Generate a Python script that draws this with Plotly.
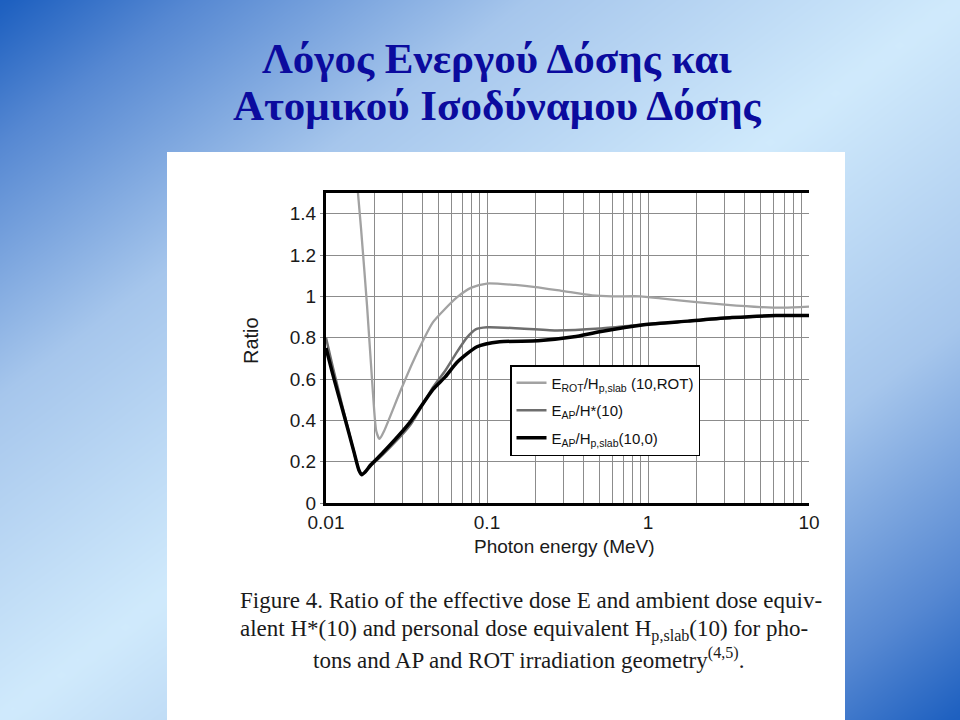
import numpy as np
import plotly.graph_objects as go

# ---------------- data ----------------
rot_energy = [0.0152, 0.0165, 0.018, 0.0195, 0.0205, 0.0215, 0.023, 0.0288, 0.035, 0.0462,
              0.055, 0.065, 0.08, 0.1, 0.15, 0.2, 0.3, 0.45, 0.6, 0.9, 1.2, 2.0, 3.0, 5.0, 7.0, 10.0]
rot_ratio = [1.65, 1.33, 0.95, 0.55, 0.35, 0.31, 0.35, 0.537, 0.69, 0.875,
             0.94, 0.995, 1.042, 1.062, 1.055, 1.045, 1.025, 1.005, 1.0, 1.0, 0.99, 0.972, 0.96, 0.948, 0.945, 0.95]

aph_energy = [0.01, 0.011, 0.012, 0.013, 0.014, 0.015, 0.016, 0.0167, 0.0175, 0.019, 0.0226,
              0.0332, 0.0462, 0.055, 0.065, 0.075, 0.085, 0.1, 0.15, 0.268, 0.5, 0.83, 1.0, 1.77, 3.32, 6.2, 10.0]
aph_ratio = [0.80, 0.66, 0.54, 0.43, 0.33, 0.24, 0.16, 0.14, 0.15, 0.18, 0.235,
             0.375, 0.56, 0.64, 0.73, 0.80, 0.84, 0.85, 0.846, 0.835, 0.844, 0.86, 0.865, 0.88, 0.896, 0.906, 0.907]

aps_energy = [0.01, 0.011, 0.012, 0.013, 0.014, 0.015, 0.016, 0.0167, 0.0175, 0.019, 0.0226,
              0.0332, 0.0462, 0.055, 0.065, 0.0866, 0.12, 0.207, 0.347, 0.5, 0.943, 1.77, 3.32, 6.2, 10.0]
aps_ratio = [0.75, 0.625, 0.517, 0.42, 0.327, 0.24, 0.16, 0.137, 0.15, 0.185, 0.244,
             0.39, 0.55, 0.61, 0.68, 0.756, 0.78, 0.785, 0.804, 0.829, 0.863, 0.88, 0.897, 0.907, 0.907]

series_names = ["E<sub>ROT</sub>/H<sub>p,slab</sub> (10,ROT)",
                "E<sub>AP</sub>/H*(10)",
                "E<sub>AP</sub>/H<sub>p,slab</sub>(10,0)"]

x_tick_vals = [0.01, 0.1, 1, 10]
x_tick_text = ["0.01", "0.1", "1", "10"]
y_tick_vals = [0, 0.2, 0.4, 0.6, 0.8, 1.0, 1.2, 1.4]
y_tick_text = ["0", "0.2", "0.4", "0.6", "0.8", "1", "1.2", "1.4"]

title_lines = ["Λόγος Ενεργού Δόσης και", "Ατομικού Ισοδύναμου Δόσης"]
caption_lines = ["Figure 4. Ratio of the effective dose E and ambient dose equiv-",
                 "alent H*(10) and personal dose equivalent H<sub>p,slab</sub>(10) for pho-",
                 "tons and AP and ROT irradiation geometry<sup>(4,5)</sup>."]

W, H = 960, 720

fig = go.Figure()

# ---------------- slide background (gradient) ----------------
gx = np.linspace(-20, W + 20, 63)
gy = np.linspace(-20, H + 20, 48)
GX, GY = np.meshgrid(gx, gy)
gz = np.clip(np.abs(GX / W + GY / H - 1.0), 0, 1)
fig.add_trace(go.Heatmap(x=gx, y=gy, z=gz, zsmooth="best", showscale=False, hoverinfo="skip",
                         colorscale=[[0, "#d0eafc"], [0.45, "#a6c6ec"], [0.8, "#5688d2"], [1, "#1b5ebf"]],
                         zmin=0, zmax=1, xaxis="x", yaxis="y", showlegend=False))
# white panel holding the figure
fig.add_trace(go.Heatmap(x=[167, 845], y=[152, 730], z=[[1]], showscale=False, hoverinfo="skip",
                         colorscale=[[0, "white"], [1, "white"]], xaxis="x", yaxis="y", showlegend=False))

# ---------------- chart traces ----------------
fig.add_trace(go.Scatter(x=rot_energy, y=rot_ratio, mode="lines", name=series_names[0],
                         line=dict(color="#a2a2a2", width=2.3, shape="spline", smoothing=0.6),
                         xaxis="x2", yaxis="y2", legendgroup="a"))
fig.add_trace(go.Scatter(x=aph_energy, y=aph_ratio, mode="lines", name=series_names[1],
                         line=dict(color="#6e6e6e", width=2.5, shape="spline", smoothing=0.6),
                         xaxis="x2", yaxis="y2", legendgroup="b"))
fig.add_trace(go.Scatter(x=aps_energy, y=aps_ratio, mode="lines", name=series_names[2],
                         line=dict(color="#000000", width=3.5, shape="spline", smoothing=0.6),
                         xaxis="x2", yaxis="y2", legendgroup="c"))

minor_vals = [m * 10.0 ** d for d in (-2, -1, 0) for m in range(2, 10)]

grid_col = "#8c8c8c"
tick_font = dict(family="Liberation Sans, Arial", size=19, color="#1a1a1a")

fig.update_layout(
    width=W, height=H,
    margin=dict(l=0, r=0, t=0, b=0, autoexpand=False),
    paper_bgcolor="white",
    plot_bgcolor="rgba(0,0,0,0)",
    showlegend=True,
    legend=dict(x=510 / W, y=1 - 365 / H, xanchor="left", yanchor="top",
                bgcolor="white", bordercolor="black", borderwidth=1.5,
                font=dict(family="Liberation Sans, Arial", size=15, color="#111"),
                traceorder="grouped", tracegroupgap=5, itemwidth=30),
    xaxis=dict(domain=[0, 1], range=[0, W], visible=False, fixedrange=True, automargin=False),
    yaxis=dict(domain=[0, 1], range=[H, 0], visible=False, fixedrange=True, automargin=False),
    xaxis2=dict(domain=[326 / W, 809 / W], anchor="y2", type="log", range=[-2, 1], automargin=False,
                tickvals=x_tick_vals, ticktext=x_tick_text, tickfont=tick_font,
                showgrid=True, gridcolor=grid_col, gridwidth=1,
                minor=dict(tickvals=minor_vals, showgrid=True, gridcolor=grid_col, gridwidth=1),
                showline=True, mirror=True, linecolor="black", linewidth=3,
                ticks="", zeroline=False),
    yaxis2=dict(domain=[1 - 503 / H, 1 - 193 / H], anchor="x2", range=[0, 1.5], automargin=False,
                tickvals=y_tick_vals, ticktext=y_tick_text, tickfont=tick_font,
                showgrid=True, gridcolor=grid_col, gridwidth=1,
                showline=True, mirror=False, linecolor="black", linewidth=3,
                ticks="outside", ticklen=3, tickcolor=grid_col, zeroline=False),
)

ann = []
# slide title
for i, t in enumerate(title_lines):
    ann.append(dict(text="<b>" + t + "</b>", x=497 / W, y=1 - (58 + 47 * i) / H, xref="paper", yref="paper",
                    showarrow=False, xanchor="center", yanchor="middle",
                    font=dict(family="Liberation Serif, Times New Roman", size=43, color="#0b0b9e")))
# axis titles
ann.append(dict(text="Ratio", x=251 / W, y=1 - 341 / H, xref="paper", yref="paper", showarrow=False,
                textangle=-90, xanchor="center", yanchor="middle",
                font=dict(family="Liberation Sans, Arial", size=20, color="#1a1a1a")))
ann.append(dict(text="Photon energy (MeV)", x=564 / W, y=1 - 546 / H, xref="paper", yref="paper",
                showarrow=False, xanchor="center", yanchor="middle",
                font=dict(family="Liberation Sans, Arial", size=19, color="#1a1a1a")))
# caption
cap_font = dict(family="Liberation Serif, Times New Roman", size=23, color="#1a1a1a")
ann.append(dict(text=caption_lines[0], x=238 / W, y=1 - 600 / H, xref="paper", yref="paper",
                showarrow=False, xanchor="left", yanchor="middle", font=cap_font))
ann.append(dict(text=caption_lines[1], x=238 / W, y=1 - 630 / H, xref="paper", yref="paper",
                showarrow=False, xanchor="left", yanchor="middle", font=cap_font))
ann.append(dict(text=caption_lines[2], x=528 / W, y=1 - 658 / H, xref="paper", yref="paper",
                showarrow=False, xanchor="center", yanchor="middle", font=cap_font))
fig.update_layout(annotations=ann)

fig.write_html("out.html")
